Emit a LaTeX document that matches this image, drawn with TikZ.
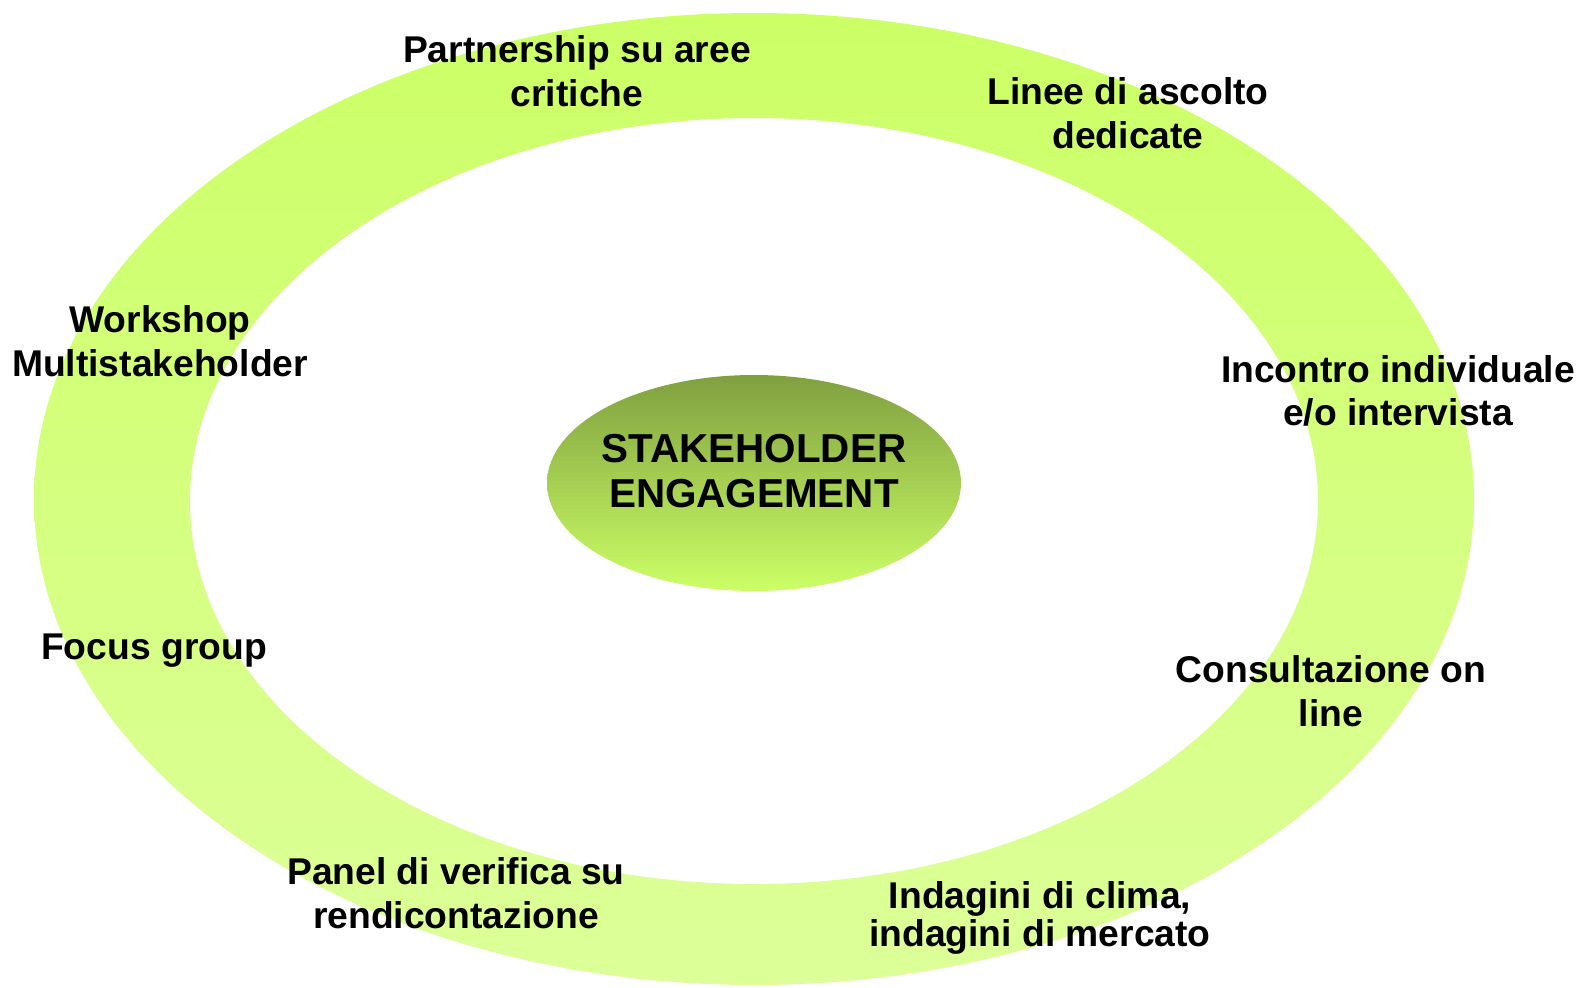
\documentclass[tikz,border=0pt]{standalone}
\usepackage{fontspec}
\setmainfont{Liberation Sans}
\usepackage{tikz}
\usetikzlibrary{arrows}

\definecolor{ringtop}{RGB}{204,255,102}
\definecolor{ringbot}{RGB}{221,255,153}
\definecolor{coretop}{RGB}{128,160,64}
\definecolor{corebot}{RGB}{204,255,102}

\tikzset{
  voce/.style={align=center,inner sep=0pt,font=\fontsize{21.2}{24.7}\selectfont\bfseries},
  titolo/.style={align=center,inner sep=0pt,font=\fontsize{23}{25.8}\selectfont\bfseries}
}

\begin{document}
\begin{tikzpicture}[line cap=round,line join=round,x=0.02cm,y=-0.02cm]
\useasboundingbox (0,0) rectangle (1581,987);
% anello
\shade[top color=ringtop,bottom color=ringbot,even odd rule]
  (754,499) ellipse [x radius=720,y radius=486]
  (754,501) ellipse [x radius=564,y radius=383];
% centro
\shade[top color=coretop,bottom color=corebot] (754,483) ellipse [x radius=207,y radius=108];
\node[titolo] (centro) at (754,471) {STAKEHOLDER\\ENGAGEMENT};
% voci
\node[voce] (partnership) at (577,71) {Partnership su aree\\critiche};
\node[voce] (linee) at (1128,113) {Linee di ascolto\\dedicate};
\node[voce] (workshop) at (160,341) {Workshop\\Multistakeholder};
\node[voce] (incontro) at (1398,391) {Incontro individuale\\e/o intervista};
\node[voce] (focus) at (154,651) {Focus group};
\node[voce] (consultazione) at (1331,691) {Consultazione on\\line};
\node[voce] (panel) at (456,893) {Panel di verifica su\\rendicontazione};
\node[voce,font=\fontsize{21.2}{22}\selectfont\bfseries] (indagini) at (1040,918) {Indagini di clima,\\indagini di mercato};
\end{tikzpicture}
\end{document}
